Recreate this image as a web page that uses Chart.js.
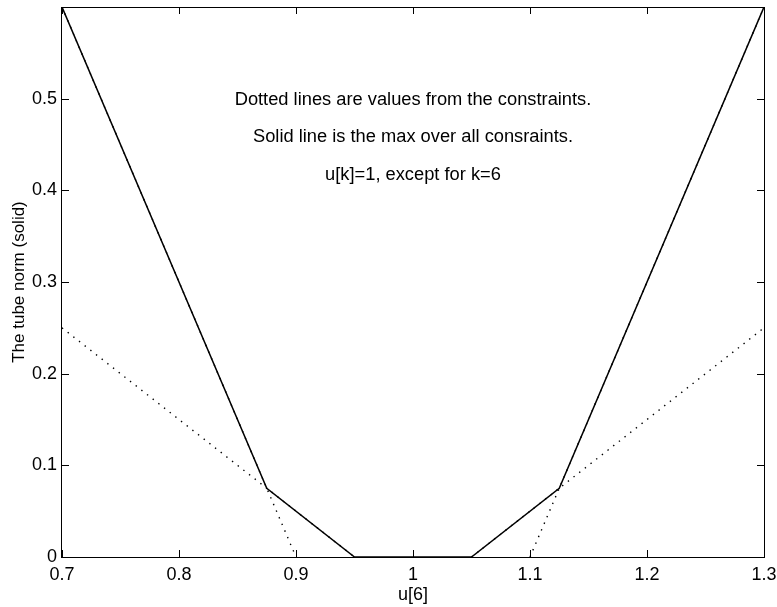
<!DOCTYPE html>
<html>
<head>
<meta charset="utf-8">
<script src="https://cdn.jsdelivr.net/npm/chart.js@4/dist/chart.umd.min.js"></script>
<style>
  html, body { margin: 0; padding: 0; background: #fff; }
  canvas { display: block; }
</style>
</head>
<body>
<canvas id="tubeChart" width="777" height="607"></canvas>
<script>
// Solid line: the max over all constraints
const solidX = [0.7, 0.875, 0.95, 1.05, 1.125, 1.3];
const solidY = [0.6, 0.075, 0, 0, 0.075, 0.6];

// Dotted lines: each constraint on its own
const leftSteepX = [0.7, 0.9];
const leftSteepY = [0.6, 0];
const leftFlatX = [0.7, 0.95];
const leftFlatY = [0.25, 0];
const rightSteepX = [1.1, 1.3];
const rightSteepY = [0, 0.6];
const rightFlatX = [1.05, 1.3];
const rightFlatY = [0, 0.25];

const xTicks = [0.7, 0.8, 0.9, 1, 1.1, 1.2, 1.3];
const yTicks = [0, 0.1, 0.2, 0.3, 0.4, 0.5];

const notes = [
    "Dotted lines are values from the constraints.",
    "Solid line is the max over all consraints.",
    "u[k]=1, except for k=6"
];
const noteY = [0.4985, 0.458, 0.4165];

const FONT = "'Liberation Sans', Arial, Helvetica, sans-serif";

function pts(xs, ys) {
    return xs.map((x, i) => ({ x: x, y: ys[i] }));
}

function dotted(xs, ys) {
    return {
        data: pts(xs, ys),
        showLine: true,
        borderColor: "#000",
        borderWidth: 1.4,
        borderDash: [1.4, 5.8],
        pointRadius: 0,
        fill: false
    };
}

// MATLAB-style box with inward ticks (filled rects), plus the text notes
const boxPlugin = {
    id: "box",
    afterDraw(chart) {
        const c = chart.ctx;
        const a = chart.chartArea;
        const xs = chart.scales.x;
        const ys = chart.scales.y;
        const L = Math.round(a.left), R = Math.round(a.right);
        const T = Math.round(a.top), B = Math.round(a.bottom);
        c.save();
        c.fillStyle = "#000";
        c.fillRect(L - 1, T, R - L + 1, 1);
        c.fillRect(L - 1, B, R - L + 1, 1);
        c.fillRect(L - 1, T, 1, B - T + 1);
        c.fillRect(R, T, 1, B - T + 1);
        xTicks.forEach(v => {
            const p = Math.round(xs.getPixelForValue(v));
            c.fillRect(p, B - 7, 1, 7);
            c.fillRect(p, T, 1, 7);
        });
        yTicks.forEach(v => {
            const p = Math.round(ys.getPixelForValue(v));
            c.fillRect(L, p, 7, 1);
            c.fillRect(R - 7, p, 7, 1);
        });

        c.font = "18.3px " + FONT;
        c.textAlign = "center";
        c.textBaseline = "middle";
        notes.forEach((t, i) => {
            c.fillText(t, xs.getPixelForValue(1), ys.getPixelForValue(noteY[i]));
        });
        c.restore();
    }
};

const ctx = document.getElementById("tubeChart").getContext("2d");

new Chart(ctx, {
    type: "scatter",
    data: {
        datasets: [
            dotted(leftFlatX, leftFlatY),
            dotted(leftSteepX, leftSteepY),
            dotted(rightSteepX, rightSteepY),
            dotted(rightFlatX, rightFlatY),
            {
                data: pts(solidX, solidY),
                showLine: true,
                borderColor: "#000",
                borderWidth: 1.5,
                borderDash: [],
                pointRadius: 0,
                fill: false
            }
        ]
    },
    options: {
        responsive: false,
        animation: false,
        layout: { padding: { top: 7, right: 13, left: 0, bottom: 0 } },
        plugins: {
            legend: { display: false },
            tooltip: { enabled: false }
        },
        scales: {
            x: {
                type: "linear",
                min: 0.7,
                max: 1.3,
                afterBuildTicks(scale) {
                    scale.ticks = xTicks.map(v => ({ value: v }));
                },
                afterFit(scale) {
                    scale.height = 50;
                    scale.paddingLeft = 0;
                    scale.paddingRight = 0;
                },
                grid: { display: false, drawTicks: false },
                border: { display: false },
                ticks: {
                    color: "#000",
                    font: { size: 18, family: FONT },
                    padding: 7,
                    maxRotation: 0,
                    callback: v => String(Math.round(v * 10) / 10)
                },
                title: {
                    display: true,
                    text: "u[6]",
                    color: "#000",
                    font: { size: 18, family: FONT },
                    padding: { top: 0, bottom: 1 }
                }
            },
            y: {
                type: "linear",
                min: 0,
                max: 0.6,
                afterBuildTicks(scale) {
                    scale.ticks = yTicks.map(v => ({ value: v }));
                },
                afterFit(scale) {
                    scale.width = 62;
                    scale.paddingTop = 0;
                    scale.paddingBottom = 0;
                },
                grid: { display: false, drawTicks: false },
                border: { display: false },
                ticks: {
                    color: "#000",
                    font: { size: 18, family: FONT },
                    padding: 5,
                    callback: v => String(Math.round(v * 10) / 10)
                },
                title: {
                    display: true,
                    text: "The tube norm (solid)",
                    color: "#000",
                    font: { size: 17, family: FONT },
                    padding: { top: 9, bottom: 0 }
                }
            }
        }
    },
    plugins: [boxPlugin]
});
</script>
</body>
</html>
